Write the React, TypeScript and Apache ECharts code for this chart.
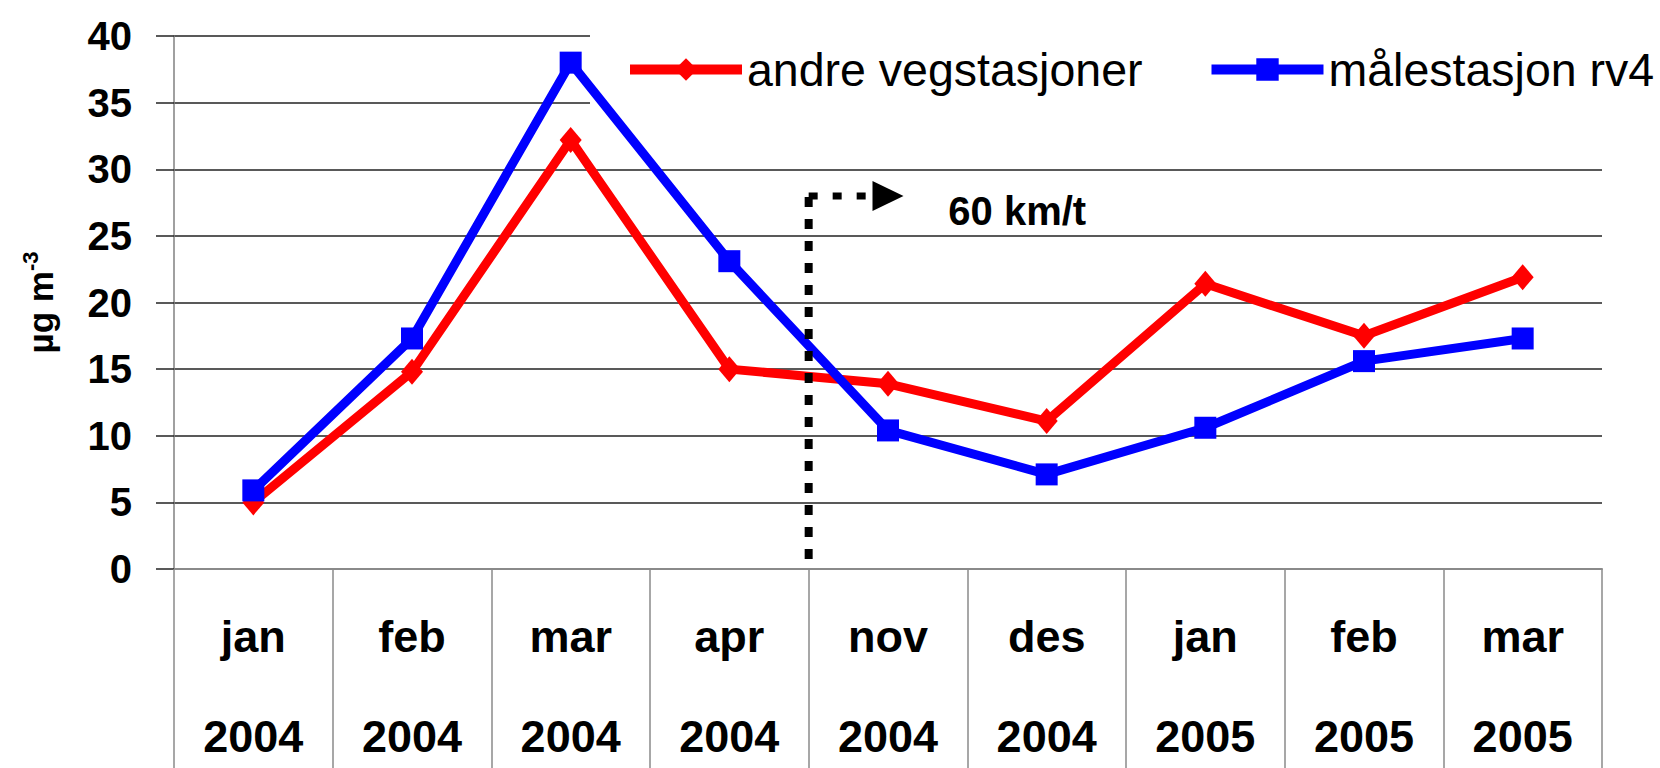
import React, { useEffect, useRef } from "react";
import * as echarts from "echarts";

const months = ["jan", "feb", "mar", "apr", "nov", "des", "jan", "feb", "mar"];
const years = ["2004", "2004", "2004", "2004", "2004", "2004", "2005", "2005", "2005"];
const andreVegstasjoner = [5.0, 14.8, 32.2, 15.0, 13.9, 11.1, 21.4, 17.5, 21.9];
const malestasjonRv4 = [5.9, 17.3, 38.0, 23.1, 10.4, 7.1, 10.6, 15.6, 17.3];
const yTicks = { min: 0, max: 40, interval: 5 };
// annotation (x in category-index units, y in µg m-3)
const speedLineVertical = [[3.5, 0.75], [3.5, 28]];
const speedLineHorizontal = [[3.5, 28], [3.88, 28]];
const speedArrowHead = [[4.0, 28]];
const speedLabelPoint = [[4.38, 26.9]];
const speedLabel = "60 km/t";

const FONT = "'Liberation Sans', Arial, sans-serif";

export default function App() {
  const ref = useRef<HTMLDivElement>(null);
  useEffect(() => {
    if (!ref.current) return;
    const chart = echarts.init(ref.current, null, { renderer: "svg" });
    const categories = months.map((m, i) => `${m}\n${years[i]}`);
    chart.setOption({
      animation: false,
      backgroundColor: "#ffffff",
      textStyle: { fontFamily: FONT },
      grid: {
        left: 174,
        right: 58,
        top: 36,
        bottom: 199,
        outerBoundsMode: "none",
      },
      graphic: {
        elements: [
          {
            type: "rect",
            z: 1,
            shape: { x: 590, y: 28, width: 1070, height: 78 },
            style: { fill: "#ffffff" },
            silent: true,
          },
        ],
      },
      legend: {
        data: ["andre vegstasjoner", "målestasjon rv4"],
        left: 625,
        top: 46,
        padding: 0,
        itemWidth: 112,
        itemHeight: 28,
        itemGap: 64,
        z: 4,
        lineStyle: { width: 10 },
        textStyle: { fontSize: 46.5, color: "#000", fontFamily: FONT },
      },
      xAxis: [
        {
          type: "category",
          data: categories,
          boundaryGap: true,
          axisLine: { show: true, lineStyle: { color: "#8a8a8a", width: 2 } },
          axisTick: {
            show: true,
            interval: 0,
            length: 200,
            lineStyle: { color: "#8a8a8a", width: 1.5 },
          },
          axisLabel: {
            interval: 0,
            margin: 17,
            fontSize: 45,
            fontWeight: "bold",
            color: "#000",
            lineHeight: 100,
            fontFamily: FONT,
          },
          splitLine: { show: false },
        },
        {
          type: "value",
          min: -0.5,
          max: 8.5,
          show: false,
          splitLine: { show: false },
        },
      ],
      yAxis: {
        type: "value",
        min: yTicks.min,
        max: yTicks.max,
        interval: yTicks.interval,
        name: "{a|µg m}{b|-3}",
        nameLocation: "middle",
        nameRotate: 90,
        nameGap: 113,
        nameTextStyle: {
          rich: {
            a: { fontSize: 35, fontWeight: "bold", color: "#000", fontFamily: FONT, lineHeight: 42 },
            b: { fontSize: 22, fontWeight: "bold", color: "#000", fontFamily: FONT, verticalAlign: "top", lineHeight: 42 },
          },
        },
        axisLine: { show: true, onZero: false, lineStyle: { color: "#808080", width: 1.5 } },
        axisTick: { show: true, length: 18, lineStyle: { color: "#222", width: 1.5 } },
        axisLabel: {
          margin: 42,
          fontSize: 40,
          fontWeight: "bold",
          color: "#000",
          fontFamily: FONT,
        },
        splitLine: { show: true, lineStyle: { color: "#222", width: 1.5 } },
      },
      series: [
        {
          name: "andre vegstasjoner",
          type: "line",
          data: andreVegstasjoner,
          z: 3,
          color: "#ff0000",
          symbol: "diamond",
          symbolSize: [22, 26],
          lineStyle: { color: "#ff0000", width: 9 },
          itemStyle: { color: "#ff0000" },
        },
        {
          name: "målestasjon rv4",
          type: "line",
          data: malestasjonRv4,
          z: 3,
          color: "#0000ff",
          symbol: "rect",
          symbolSize: 22,
          lineStyle: { color: "#0000ff", width: 9 },
          itemStyle: { color: "#0000ff" },
        },
        {
          name: "speedV",
          type: "line",
          xAxisIndex: 1,
          data: speedLineVertical,
          symbol: "none",
          z: 4,
          lineStyle: { color: "#000", width: 8, type: [10, 12], cap: "butt" },
        },
        {
          name: "speedH",
          type: "line",
          xAxisIndex: 1,
          data: speedLineHorizontal,
          symbol: "none",
          z: 4,
          lineStyle: { color: "#000", width: 7, type: [9, 15], cap: "butt" },
        },
        {
          name: "speedArrow",
          type: "scatter",
          xAxisIndex: 1,
          data: speedArrowHead,
          symbol: "triangle",
          symbolRotate: -90,
          symbolSize: [30, 31],
          z: 4,
          itemStyle: { color: "#000", opacity: 1 },
        },
        {
          name: "speedLabel",
          type: "scatter",
          xAxisIndex: 1,
          data: speedLabelPoint,
          symbolSize: 0,
          z: 4,
          itemStyle: { color: "#000", opacity: 1 },
          label: {
            show: true,
            position: "right",
            distance: 0,
            formatter: speedLabel,
            fontSize: 40,
            fontWeight: "bold",
            color: "#000",
            opacity: 1,
            fontFamily: FONT,
          },
        },
      ],
    });
    return () => chart.dispose();
  }, []);
  return (
    <div
      ref={ref}
      style={{ position: "fixed", left: 0, top: 0, width: 1660, height: 768 }}
    />
  );
}
